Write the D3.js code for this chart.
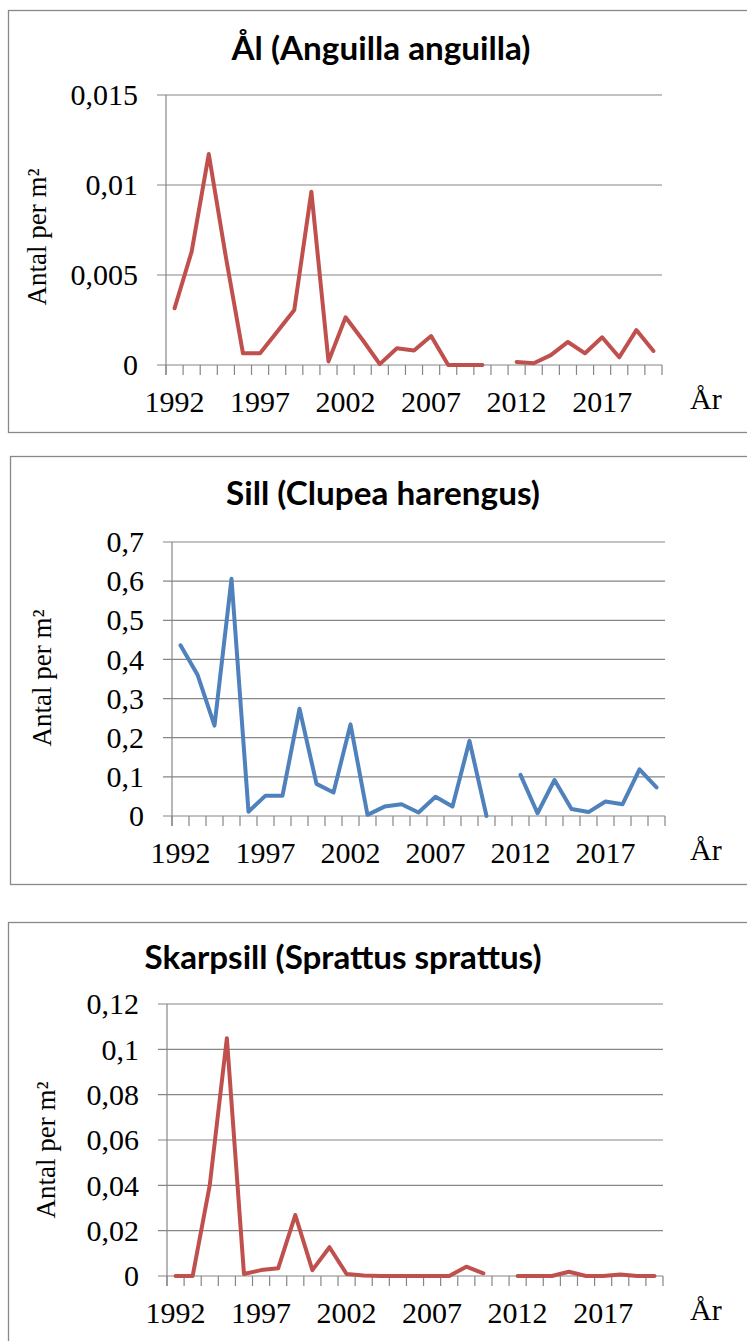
<!DOCTYPE html>
<html>
<head>
<meta charset="utf-8">
<title>Fiskar per år</title>
<script src="https://cdnjs.cloudflare.com/ajax/libs/d3/7.8.5/d3.min.js"></script>
<style>
  html, body { margin: 0; padding: 0; background: #fff; }
  svg { display: block; }
</style>
</head>
<body>
<script>
// years on the category axis, null = no sampling that year
var years = d3.range(1992, 2021);
var yearLabels = [1992, 1997, 2002, 2007, 2012, 2017];

var alValues = [0.00315, 0.0063, 0.01172, 0.006, 0.00065, 0.00065, 0.00185, 0.00306, 0.00963, 0.0002,
  0.00265, 0.00139, 0.00005, 0.00093, 0.0008, 0.00161, 0, 0, 0, null,
  0.00017, 0.0001, 0.00055, 0.00128, 0.00065, 0.00154, 0.00043, 0.00194, 0.00078];
var sillValues = [0.436, 0.361, 0.231, 0.606, 0.011, 0.052, 0.052, 0.274, 0.082, 0.06,
  0.234, 0.003, 0.024, 0.03, 0.009, 0.049, 0.024, 0.192, 0, null,
  0.105, 0.007, 0.092, 0.018, 0.01, 0.037, 0.03, 0.119, 0.073];
var skarpsillValues = [0, 0, 0.0401, 0.1049, 0.0009, 0.0026, 0.0034, 0.0269, 0.0026, 0.0127,
  0.0009, 0.0002, 0, 0, 0, 0, 0, 0.0041, 0.0012, null,
  0, 0, 0, 0.0019, 0, 0, 0.0007, 0, 0];

var alTicks = [0, 0.005, 0.01, 0.015];
var sillTicks = [0, 0.1, 0.2, 0.3, 0.4, 0.5, 0.6, 0.7];
var skarpsillTicks = [0, 0.02, 0.04, 0.06, 0.08, 0.1, 0.12];

var titles = ['Ål (Anguilla anguilla)', 'Sill (Clupea harengus)', 'Skarpsill (Sprattus sprattus)'];
var yTitle = 'Antal per m²';
var xTitle = 'År';

var W = 747, H = 1341;
var gridColor = '#868686';
var serif = '"Liberation Serif", "Times New Roman", serif';

var svg = d3.select('body').append('svg')
  .attr('width', W)
  .attr('height', H);

var panels = [
  { title: titles[0], values: alValues, ticks: alTicks, color: '#C0504D',
    box: [8.5, 10.5, 422], plot: [166, 662, 95, 365],
    titleX: 381, titleY: 60, titleW: 299, yTitleX: 37, yTitleY: 237 },
  { title: titles[1], values: sillValues, ticks: sillTicks, color: '#4F81BD',
    box: [10.5, 456.5, 428], plot: [172, 665, 542, 816],
    titleX: 383, titleY: 505, titleW: 314, yTitleX: 42, yTitleY: 678 },
  { title: titles[2], values: skarpsillValues, ticks: skarpsillTicks, color: '#C0504D',
    box: [8.5, 922.5, 440], plot: [167, 663, 1004, 1276],
    titleX: 343, titleY: 969, titleW: 397, yTitleX: 46, yTitleY: 1150 }
];

function fmt(d) {
  return String(d).replace('.', ',');
}

panels.forEach(function (p) {
  var g = svg.append('g');
  var left = p.plot[0], right = p.plot[1], top = p.plot[2], bottom = p.plot[3];

  // chart frame (runs off the right edge like the original)
  g.append('rect')
    .attr('x', p.box[0]).attr('y', p.box[1])
    .attr('width', W + 20).attr('height', p.box[2])
    .attr('fill', '#fff')
    .attr('stroke', '#898989')
    .attr('stroke-width', 1.3);

  var x = d3.scaleBand().domain(years).range([left, right]).padding(0);
  var y = d3.scaleLinear().domain([0, d3.max(p.ticks)]).range([bottom, top]);

  // horizontal gridlines + left ticks
  g.selectAll('.grid')
    .data(p.ticks)
    .enter().append('line')
    .attr('x1', left - 9).attr('x2', right)
    .attr('y1', function (d) { return y(d); })
    .attr('y2', function (d) { return y(d); })
    .attr('stroke', gridColor)
    .attr('stroke-width', 1.2);

  // y axis line
  g.append('line')
    .attr('x1', left).attr('x2', left)
    .attr('y1', top).attr('y2', bottom + 10)
    .attr('stroke', gridColor)
    .attr('stroke-width', 1.2);

  // x ticks between categories
  var bounds = years.map(function (yr) { return x(yr); }).concat([right]);
  g.selectAll('.xtick')
    .data(bounds)
    .enter().append('line')
    .attr('x1', function (d) { return d; })
    .attr('x2', function (d) { return d; })
    .attr('y1', bottom).attr('y2', bottom + 10)
    .attr('stroke', gridColor)
    .attr('stroke-width', 1.2);

  // y tick labels
  g.selectAll('.ylab')
    .data(p.ticks)
    .enter().append('text')
    .attr('x', left - 28)
    .attr('y', function (d) { return y(d); })
    .attr('dy', '0.34em')
    .attr('text-anchor', 'end')
    .style('font-family', serif)
    .style('font-size', '30px')
    .text(fmt);

  // year labels
  g.selectAll('.xlab')
    .data(yearLabels)
    .enter().append('text')
    .attr('x', function (d) { return x(d) + x.bandwidth() / 2; })
    .attr('y', bottom + 47)
    .attr('text-anchor', 'middle')
    .style('font-family', serif)
    .style('font-size', '30px')
    .text(function (d) { return d; });

  g.append('text')
    .attr('x', 690)
    .attr('y', bottom + 44)
    .style('font-family', serif)
    .style('font-size', '30px')
    .text(xTitle);

  g.append('text')
    .attr('transform', 'translate(' + p.yTitleX + ',' + p.yTitleY + ') rotate(-90)')
    .attr('text-anchor', 'middle')
    .attr('dy', '0.35em')
    .style('font-family', serif)
    .style('font-size', '27px')
    .text(yTitle);

  g.append('text')
    .attr('x', p.titleX)
    .attr('y', p.titleY)
    .attr('text-anchor', 'middle')
    .attr('textLength', p.titleW)
    .attr('lengthAdjust', 'spacingAndGlyphs')
    .style('font-family', 'Lato, "Open Sans", sans-serif')
    .style('font-weight', 'bold')
    .style('font-size', '32px')
    .text(p.title);

  var line = d3.line()
    .defined(function (d) { return d != null; })
    .x(function (d, i) { return x(years[i]) + x.bandwidth() / 2; })
    .y(function (d) { return y(d); });

  g.append('path')
    .datum(p.values)
    .attr('d', line)
    .attr('fill', 'none')
    .attr('stroke', p.color)
    .attr('stroke-width', 4)
    .attr('stroke-linejoin', 'round')
    .attr('stroke-linecap', 'round');
});
</script>
</body>
</html>
